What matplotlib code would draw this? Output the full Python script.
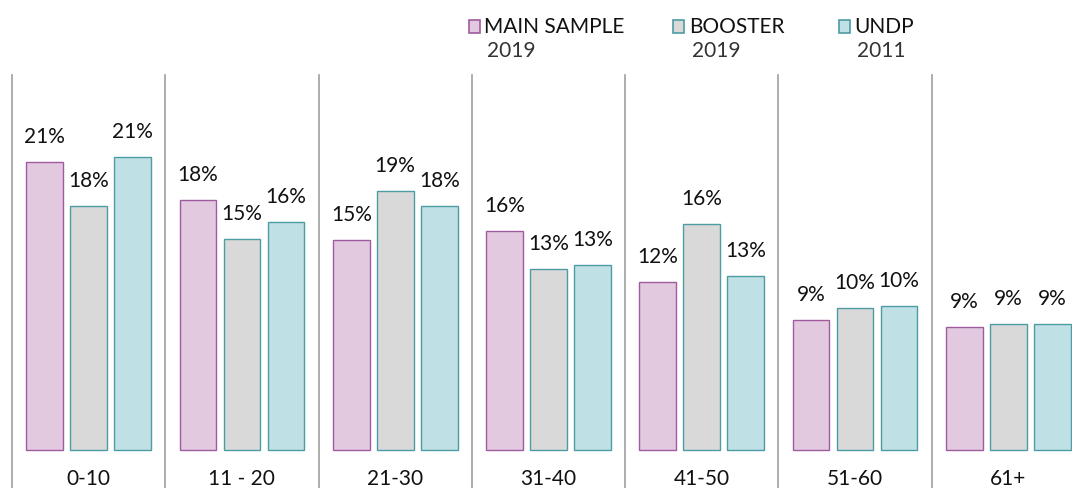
import numpy as np
import matplotlib.pyplot as plt
from matplotlib.patches import Rectangle

# Age groups and shares (%)
groups = ['0-10', '11 - 20', '21-30', '31-40', '41-50', '51-60', '61+']
main_sample = [20.9, 18.1, 15.2, 15.9, 12.2, 9.4, 8.9]
booster = [17.7, 15.3, 18.8, 13.1, 16.4, 10.3, 9.1]
undp = [21.2, 16.5, 17.7, 13.4, 12.6, 10.4, 9.1]
labels_main = ['21%', '18%', '15%', '16%', '12%', '9%', '9%']
labels_boost = ['18%', '15%', '19%', '13%', '16%', '10%', '9%']
labels_undp = ['21%', '16%', '18%', '13%', '13%', '10%', '9%']
series_names = ['MAIN SAMPLE', 'BOOSTER', 'UNDP']
series_years = ['2019', '2019', '2011']

plt.rcParams['font.family'] = ['Lato', 'DejaVu Sans']
fs = 15

faces = ['#E2C9E0', '#D9D9D9', '#BFE0E4']
edges = ['#A05AA0', '#4E9CA3', '#4E9CA3']

fig = plt.figure(figsize=(10.72, 4.88), dpi=100)
ax = fig.add_axes([0, 0, 1, 1])

x = np.arange(len(groups))
step = 0.287
width = 0.24
px = 13.8  # pixels per percent
for k, (vals, labs) in enumerate(zip([main_sample, booster, undp],
                                     [labels_main, labels_boost, labels_undp])):
    xs = x + (k - 1) * step
    ax.bar(xs, vals, width=width, color=faces[k], edgecolor=edges[k], linewidth=1.0)
    for xi, v, lab in zip(xs, vals, labs):
        ax.text(xi, v + 25 / px, lab, ha='center', va='center', fontsize=fs,
                color='#111111')

# separators
for i in range(len(groups)):
    ax.plot([i - 0.5, i - 0.5], [-40, (450 - 75) / px], color='#A0A0A0', lw=1.2,
            clip_on=False)

for i, g in enumerate(groups):
    ax.text(i, -29 / px, g, ha='center', va='center', fontsize=fs, color='#111111')

ax.set_xlim(-0.5 - 12 / 153.3, (1072 - 88.5) / 153.3)
ax.set_ylim(-38 / px, 450 / px)
ax.axis('off')

# legend
leg_sq_x = [469, 673, 839]
leg_tx_x = [485, 690, 855]
W, H = 1072, 488
for k in range(3):
    fig.patches.append(Rectangle((leg_sq_x[k] / W, 1 - 33 / H), 11 / W, 13 / H,
                                 transform=fig.transFigure, facecolor=faces[k],
                                 edgecolor=edges[k], linewidth=1.2))
    fig.text((leg_tx_x[k] - 1) / W, 1 - 27 / H, series_names[k], ha='left', va='center',
             fontsize=fs, color='#111111')
    fig.text((leg_tx_x[k] + 2) / W, 1 - 51 / H, series_years[k], ha='left',
             va='center', fontsize=fs, color='#333333')

fig.savefig('out.png', dpi=100)
